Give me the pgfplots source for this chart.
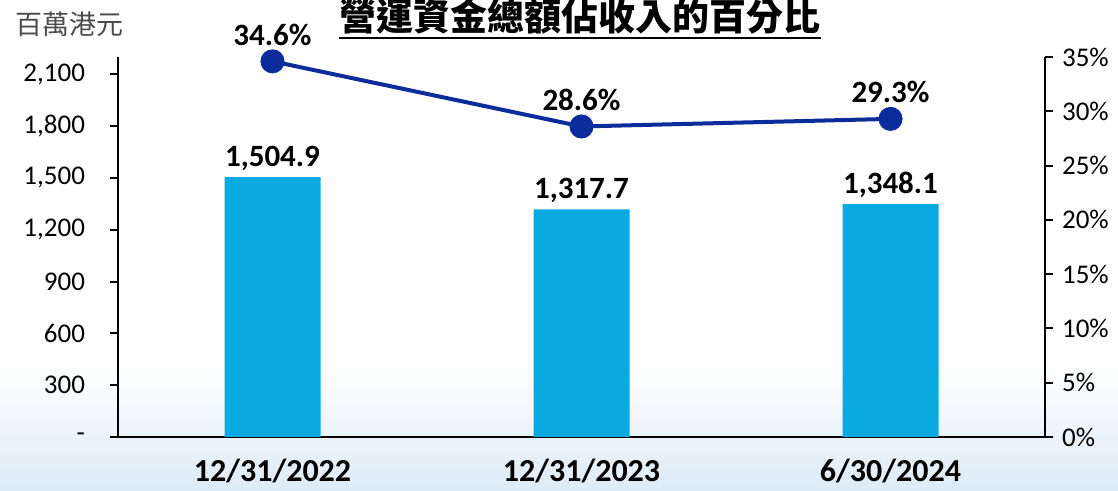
\documentclass[border=0pt]{standalone}
\usepackage{fontspec}
\setmainfont{Carlito}
\newfontfamily\cjk{Noto Sans CJK TC}
\usepackage{pgfplots}
\pgfplotsset{compat=1.18}

\definecolor{barblue}{HTML}{0AA9E1}
\definecolor{lineblue}{HTML}{0B2C9A}
\definecolor{bgblue}{HTML}{DCEBF7}

\pgfplotstableread{
x val
0 1504.9
1 1317.7
2 1348.1
}\bardata

\pgfplotstableread{
x pct
0 34.6
1 28.6
2 29.3
}\pctdata

\begin{document}
\begin{tikzpicture}
\useasboundingbox (-59pt,-27pt) rectangle (500pt,218.5pt);
\shade[top color=white, bottom color=bgblue] (-59pt,-27pt) rectangle (500pt,35pt);

\begin{axis}[
    at={(0,0)}, anchor=south west,
    scale only axis,
    width=463.5pt, height=190pt,
    xmin=-0.5, xmax=2.5,
    ymin=0, ymax=2200,
    axis y line*=left,
    axis x line*=bottom,
    x axis line style={-, shorten <=-4pt, shorten >=-4pt},
    y axis line style={-},
    axis line style={line width=1pt},
    xtick={0,1,2},
    xticklabels={12/31/2022,12/31/2023,6/30/2024},
    xtick style={draw=none},
    extra x ticks={-0.5,0.5,1.5,2.5},
    extra x tick labels={},
    extra x tick style={tick style={line width=1pt, draw=black}, major tick length=5pt, tick align=outside},
    xticklabel style={font=\fontsize{16}{18}\selectfont\bfseries, anchor=base, yshift=-18.5pt},
    ytick={0,300,...,2100},
    yticklabels={-,300,600,900,{1,200},{1,500},{1,800},{2,100}},
    ytick style={line width=1pt, draw=black},
    tick align=outside,
    major tick length=4pt,
    yticklabel style={font=\fontsize{13.5}{16}\selectfont, xshift=-9pt},
    /pgf/number format/assume math mode=true,
    ybar, bar width=48pt,
    nodes near coords={\pgfmathprintnumber[fixed, precision=1, fixed zerofill, 1000 sep={,}]{\pgfplotspointmeta}},
    point meta=explicit,
    nodes near coords style={font=\fontsize{15.5}{18}\selectfont\bfseries, anchor=base, inner sep=0pt, yshift=5.5pt},
]
\addplot[fill=barblue, draw=none] table[x=x, y=val, meta=val] {\bardata};
\end{axis}

\begin{axis}[
    at={(0,0)}, anchor=south west,
    scale only axis,
    width=463.5pt, height=190pt,
    xmin=-0.5, xmax=2.5,
    ymin=0, ymax=35,
    axis y line*=right,
    axis x line=none,
    y axis line style={-, line width=1pt},
    ytick={0,5,...,35},
    yticklabel={\pgfmathprintnumber{\tick}\%},
    ytick style={line width=1pt, draw=black},
    tick align=outside,
    major tick length=4pt,
    yticklabel style={font=\fontsize{13.5}{16}\selectfont, xshift=1pt},
    /pgf/number format/assume math mode=true,
    nodes near coords={\pgfmathprintnumber[fixed, precision=1, fixed zerofill]{\pgfplotspointmeta}\%},
    point meta=explicit,
    nodes near coords style={font=\fontsize{15.5}{18}\selectfont\bfseries, text=black, anchor=base, inner sep=0pt, yshift=8pt},
]
\addplot[lineblue, line width=2pt, mark=*, mark size=5pt, mark options={fill=lineblue}] table[x=x, y=pct, meta=pct] {\pctdata};
\end{axis}

\node[font=\cjk\fontsize{13.5}{16}\selectfont, text=black!70, anchor=base west, inner sep=0pt] at (-51.5pt,201pt) {百萬港元};
\node[font=\cjk\bfseries\fontsize{18.5}{20}\selectfont, anchor=base, inner sep=0pt] (t) at (231pt,203pt) {營運資金總額佔收入的百分比};
\draw[line width=1.2pt] (t.west |- 0,199.5pt) -- (t.east |- 0,199.5pt);
\end{tikzpicture}
\end{document}
